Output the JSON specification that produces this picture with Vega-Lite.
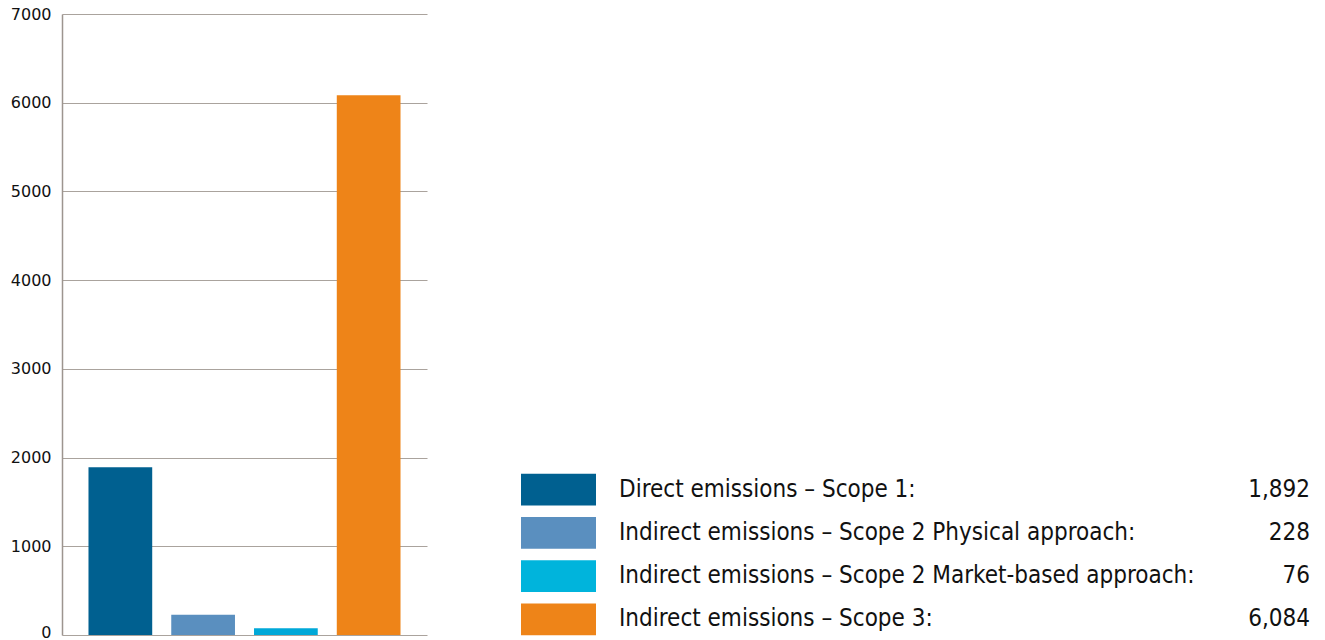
{
  "$schema": "https://vega.github.io/schema/vega-lite/v6.json",
  "padding": {"left": 10, "top": 6, "right": 0, "bottom": 0},
  "background": "white",
  "data": {"values": [
    {"label": "Direct emissions – Scope 1:", "value": 1892},
    {"label": "Indirect emissions – Scope 2 Physical approach:", "value": 228},
    {"label": "Indirect emissions – Scope 2 Market-based approach:", "value": 76},
    {"label": "Indirect emissions – Scope 3:", "value": 6084}
  ]},
  "config": {"view": {"stroke": null}},
  "spacing": 94,
  "hconcat": [
    {
      "width": 365,
      "height": 621,
      "mark": {"type": "bar"},
      "encoding": {
        "x": {"field": "label", "type": "nominal", "sort": null, "axis": null,
              "scale": {"paddingInner": 0.23, "paddingOuter": 0.32}},
        "y": {"field": "value", "type": "quantitative",
              "scale": {"domain": [0, 7000], "nice": false},
              "axis": {"values": [0, 1000, 2000, 3000, 4000, 5000, 6000, 7000], "format": "d", "title": null,
                       "ticks": false, "labelPadding": 11, "labelFont": "DejaVu Sans", "labelFontSize": 16,
                       "labelOffset": {"condition": {"test": "datum.value == 0", "value": -3}, "value": 0},
                       "labelColor": "#111111", "domainColor": "#9d958f", "domainWidth": 1.5,
                       "gridColor": "#aaa39d", "gridWidth": 1.2, "labelFlush": false}},
        "color": {"field": "label", "type": "nominal", "legend": null,
                  "scale": {"domain": ["Direct emissions – Scope 1:", "Indirect emissions – Scope 2 Physical approach:", "Indirect emissions – Scope 2 Market-based approach:", "Indirect emissions – Scope 3:"],
                            "range": ["#006090", "#5a8fbf", "#00a8d8", "#ee8418"]}}
      }
    },
    {
      "width": 789,
      "height": 621,
      "encoding": {
        "y": {"field": "label", "type": "nominal", "sort": null, "axis": null,
              "scale": {"range": [454, 627], "paddingInner": 0.27, "paddingOuter": 0.135}}
      },
      "layer": [
        {
          "mark": {"type": "rect"},
          "encoding": {
            "x": {"value": 0},
            "x2": {"value": 75},
            "color": {"field": "label", "type": "nominal", "legend": null,
                      "scale": {"domain": ["Direct emissions – Scope 1:", "Indirect emissions – Scope 2 Physical approach:", "Indirect emissions – Scope 2 Market-based approach:", "Indirect emissions – Scope 3:"],
                                "range": ["#006090", "#5a8fbf", "#00b4dc", "#ee8418"]}}
          }
        },
        {
          "mark": {"type": "text", "align": "left", "baseline": "middle", "font": "Liberation Sans Narrow, DejaVu Sans Condensed, sans-serif", "fontSize": 24, "color": "#111111"},
          "encoding": {"x": {"value": 98}, "text": {"field": "label", "type": "nominal"}}
        },
        {
          "mark": {"type": "text", "align": "right", "baseline": "middle", "font": "Liberation Sans Narrow, DejaVu Sans Condensed, sans-serif", "fontSize": 24, "color": "#111111"},
          "encoding": {"x": {"value": "width"}, "text": {"field": "value", "type": "quantitative", "format": ",d"}}
        }
      ]
    }
  ],
  "resolve": {"scale": {"color": "independent"}}
}
